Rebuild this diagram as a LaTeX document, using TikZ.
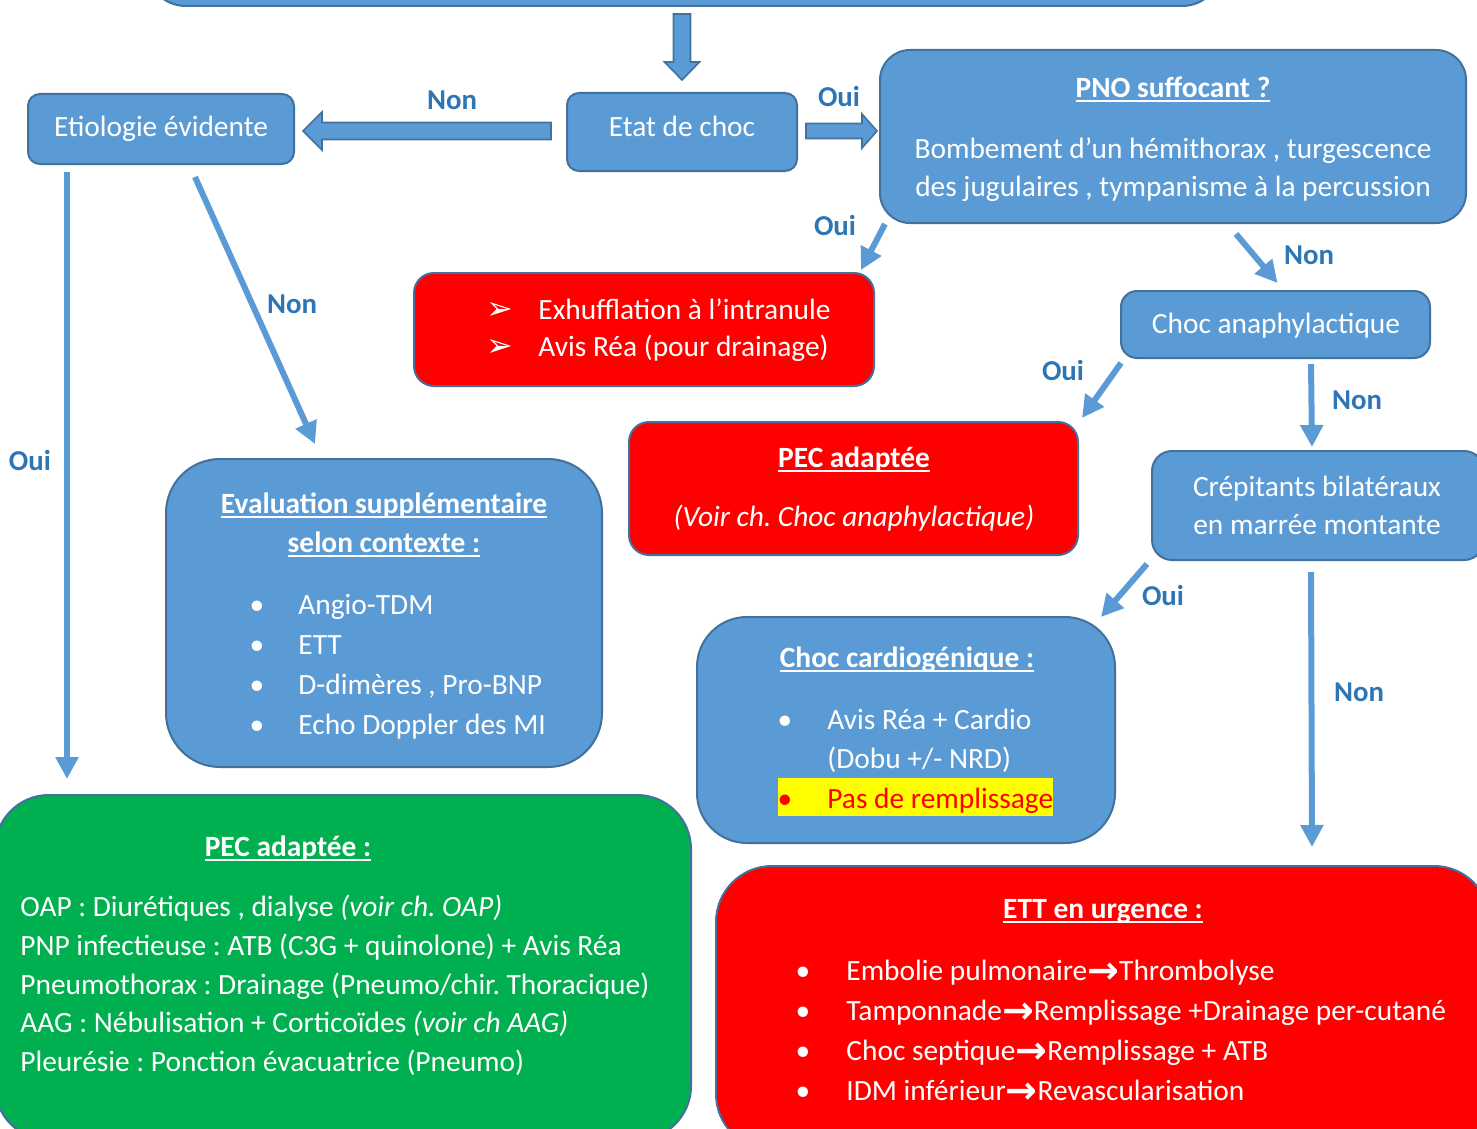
\documentclass[tikz,border=0pt]{standalone}
\usepackage{fontspec}
\setmainfont{Carlito}
\newfontfamily\dvsans{DejaVu Sans}
\usetikzlibrary{calc,fit,arrows.meta}
\definecolor{boxblue}{HTML}{5B9BD5}
\definecolor{edgeblue}{HTML}{41719C}
\definecolor{lblblue}{HTML}{2E75B6}
\definecolor{pecred}{HTML}{FF0000}
\definecolor{pecgreen}{HTML}{00B050}
\definecolor{hlyellow}{HTML}{FFFF00}
\frenchspacing
\newsavebox{\ulbox}
\newcommand{\myul}[1]{\sbox{\ulbox}{#1}\rlap{\rule[-2.2pt]{\wd\ulbox}{0.9pt}}\usebox{\ulbox}}
\newcommand{\rarr}{\raisebox{-1.2pt}{\dvsans\bfseries\fontsize{19pt}{19pt}\selectfont →}}
\newcommand{\arrbul}{{\dvsans\fontsize{16pt}{16pt}\selectfont ➢}}
\begin{document}
\begin{tikzpicture}[x=0.5pt,y=-0.5pt,
  every node/.style={font=\fontsize{14.7pt}{19pt}\selectfont, text=white, inner sep=0pt},
  box/.style={draw=edgeblue, line width=1pt, inner sep=0pt},
  bluebox/.style={box, fill=boxblue},
  redbox/.style={box, fill=pecred},
  greenbox/.style={box, fill=pecgreen},
  lbl/.style={text=lblblue, font=\fontsize{14.4pt}{17pt}\selectfont\bfseries},
  flow/.style={draw=boxblue, line width=3pt, -{Triangle[length=11pt,width=11pt]}},
  blk/.style={fill=boxblue, draw=edgeblue, line width=0.8pt, line join=miter},
  txt/.style={anchor=mid},
  ltxt/.style={anchor=mid west},
  ttl/.style={anchor=mid, font=\fontsize{14.7pt}{19pt}\selectfont\bfseries},
]
\useasboundingbox (0,0) rectangle (1477,1129);

% ---------- boxes ----------
\node[bluebox, rounded corners=20pt, fit={(146,-80) (1222,6)}] (top) {};
\node[bluebox, rounded corners=6pt, fit={(567,93) (797,171)}] (choc) {};
\node[txt] (chocT) at (682,132) {Etat de choc};
\node[bluebox, rounded corners=6pt, fit={(28,94) (294,164)}] (etio) {};
\node[txt] (etioT) at (161,132) {Etiologie évidente};

\node[bluebox, rounded corners=15pt, fit={(880,50) (1466,223)}] (pno) {};
\node[ttl] (pnoT) at (1173,93) {\myul{PNO suffocant ?}};
\node[txt] (pnoL1) at (1173,154) {Bombement d’un hémithorax , turgescence};
\node[txt] (pnoL2) at (1173,192) {des jugulaires , tympanisme à la percussion};

\node[redbox, rounded corners=10pt, fit={(414,273) (874,386)}] (exh) {};
\node[txt] (exhB1) at (500,315) {\arrbul};
\node[txt] (exhB2) at (500,352) {\arrbul};
\node[ltxt] (exhL1) at (538,315) {Exhufflation à l’intranule};
\node[ltxt] (exhL2) at (538,352) {Avis Réa (pour drainage)};

\node[bluebox, rounded corners=8pt, fit={(1121,291) (1430,358)}] (anaph) {};
\node[txt] (anaphT) at (1276,329) {Choc anaphylactique};

\node[redbox, rounded corners=10pt, fit={(629,422) (1078,555)}] (pecr) {};
\node[ttl] (pecrT) at (854,463) {\myul{PEC adaptée}};
\node[txt] (pecrL) at (854,522) {\itshape (Voir ch. Choc anaphylactique)};

\node[bluebox, rounded corners=10pt, fit={(1152,451) (1484,560)}] (crep) {};
\node[txt] (crepL1) at (1317,492) {Crépitants bilatéraux};
\node[txt] (crepL2) at (1317,530) {en marrée montante};

\node[bluebox, rounded corners=25pt, fit={(697,617) (1115,843)}] (cardio) {};
\node[ttl] (cardioT) at (907,663) {\myul{Choc cardiogénique :}};
\node[fill=hlyellow, fit={(778,778) (1053,816)}] (hl) {};
\node[txt] (cardioB1) at (785,725) {•};
\node[ltxt] (cardioL1) at (827,725) {Avis Réa + Cardio};
\node[ltxt] (cardioL2) at (827,764) {(Dobu +/- NRD)};
\node[txt, text=pecred] (cardioB2) at (785,804) {•};
\node[ltxt, text=pecred] (cardioL3) at (827,804) {Pas de remplissage};

\node[bluebox, rounded corners=27pt, fit={(166,459) (602,767)}] (eval) {};
\node[ttl] (evalT1) at (384,509) {\myul{Evaluation supplémentaire}};
\node[ttl] (evalT2) at (384,548) {\myul{selon contexte :}};
\foreach \yy/\tt [count=\i] in {610/Angio-TDM, 650/ETT, 690/{D-dimères , Pro-BNP}, 730/Echo Doppler des MI}{
  \node[txt] (evalB\i) at (257,\yy) {•};
  \node[ltxt] (evalL\i) at (298,\yy) {\tt};
}

\node[greenbox, rounded corners=27pt, fit={(-5,795) (691,1140)}] (green) {};
\node[ttl] (greenT) at (288,852) {\myul{PEC adaptée :}};
\node[ltxt] (greenL1) at (20,912) {OAP : Diurétiques , dialyse \textit{(voir ch. OAP)}};
\node[ltxt] (greenL2) at (20,951) {PNP infectieuse : ATB (C3G + quinolone) + Avis Réa};
\node[ltxt] (greenL3) at (20,990) {Pneumothorax : Drainage (Pneumo/chir. Thoracique)};
\node[ltxt] (greenL4) at (20,1028) {AAG : Nébulisation + Corticoïdes \textit{(voir ch AAG)}};
\node[ltxt] (greenL5) at (20,1067) {Pleurésie : Ponction évacuatrice (Pneumo)};

\node[redbox, rounded corners=28pt, fit={(716,866) (1490,1150)}] (ett) {};
\node[ttl] (ettT) at (1103,914) {\myul{ETT en urgence :}};
\foreach \yy/\tt [count=\i] in {976/{Embolie pulmonaire\rarr Thrombolyse}, 1016/{Tamponnade\rarr Remplissage +Drainage per-cutané}, 1056/{Choc septique\rarr Remplissage + ATB}, 1096/{IDM inférieur\rarr Revascularisation}}{
  \node[txt] (ettB\i) at (803,\yy) {•};
  \node[ltxt] (ettL\i) at (846,\yy) {\tt};
}

% ---------- block arrows ----------
% down: top -> choc
\coordinate (d1) at ($(top.south -| choc.north)+(0,7)$);
\coordinate (d2) at ($(choc.north)+(0,-12)$);
\draw[blk] ($(d1)+(-8.5,0)$) -- ($(d1)+(8.5,0)$) -- ($(d2)+(8.5,-18)$) -- ($(d2)+(17.5,-18)$) -- (d2)
  -- ($(d2)+(-17.5,-18)$) -- ($(d2)+(-8.5,-18)$) -- cycle;
% left: choc -> etio
\coordinate (l1) at ($(choc.west)+(-15,-1)$);
\coordinate (l2) at ($(etio.east |- l1)+(8,0)$);
\draw[blk] ($(l1)+(0,-8.5)$) -- ($(l1)+(0,8.5)$) -- ($(l2)+(19,8.5)$) -- ($(l2)+(19,19)$) -- (l2)
  -- ($(l2)+(19,-19)$) -- ($(l2)+(19,-8.5)$) -- cycle;
% right: choc -> pno
\coordinate (r1) at ($(choc.east)+(8,-1)$);
\coordinate (r2) at ($(pno.west |- r1)+(-2,0)$);
\draw[blk] ($(r1)+(0,-7.5)$) -- ($(r1)+(0,7.5)$) -- ($(r2)+(-15,7.5)$) -- ($(r2)+(-15,17)$) -- (r2)
  -- ($(r2)+(-15,-17)$) -- ($(r2)+(-15,-7.5)$) -- cycle;

% ---------- thin arrows ----------
\draw[flow] ($(pno.south west)+(6,0)$) -- ($(exh.north east)+(-14,-2)$);
\draw[flow] ($(pno.south)+(63,10)$) -- ($(anaph.north)+(2,-7)$);
\draw[flow] ($(anaph.south west)+(1,4)$) -- ($(pecr.north east)+(3,-3)$);
\draw[flow] ($(anaph.south west)+(191,5)$) -- ($(crep.north west)+(161,-3)$);
\draw[flow] ($(crep.south west)+(-4,3)$) -- ($(cardio.north east)+(-15,1)$);
\draw[flow] ($(crep.south west)+(160,11)$) -- ($(ett.north west)+(597,-18)$);
\draw[flow] ($(etio.south west)+(40,7)$) -- ($(etio.south west |- green.north)+(40,-15)$);
\draw[flow] ($(etio.south west)+(168,12)$) -- ($(eval.north west)+(150,-14)$);

% ---------- labels ----------
\node[lbl] (n1) at (452,100) {Non};
\node[lbl] (o1) at (839,97) {Oui};
\node[lbl] (o2) at (835,225) {Oui};
\node[lbl] (n2) at (1309,255) {Non};
\node[lbl] (o3) at (1063,370) {Oui};
\node[lbl] (n3) at (1357,400) {Non};
\node[lbl] (o4) at (1163,595) {Oui};
\node[lbl] (n4) at (1359,692) {Non};
\node[lbl] (o5) at (30,460) {Oui};
\node[lbl] (n5) at (292,304) {Non};
\end{tikzpicture}
\end{document}
